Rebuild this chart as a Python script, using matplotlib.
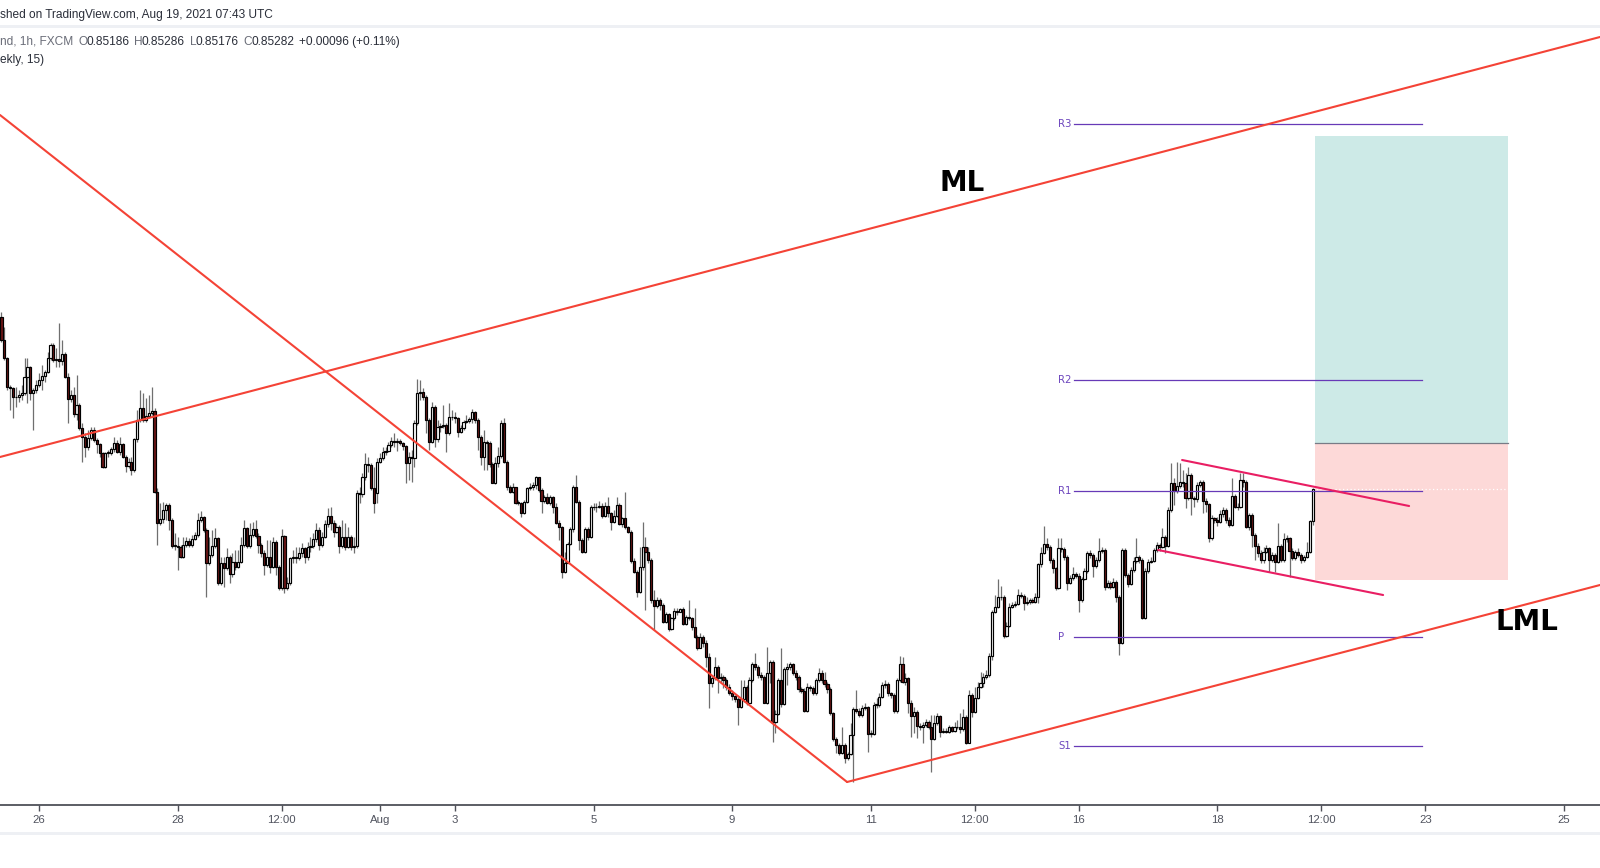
import numpy as np
import matplotlib
matplotlib.use("Agg")
import matplotlib.pyplot as plt
from matplotlib.patches import Rectangle

# ---------------- data: EUR/GBP 1h (prices in pips, 1 pip = 0.0001) ----------------
first_bar = -13            # bar index of the first visible candle (0 = Jul 26 00:00)
first_open_pips = 8580.0
gap_bar = 117              # first bar after the weekend (Aug 1)
gap_open_pips = 8527.0

close_pips = [
    # Jul 23 - Aug 2
    8573, 8567.5, 8559, 8558.7, 8556, 8555.8, 8556.5, 8557, 8561.8, 8564.8, 8557, 8558, 8559.5,
    8561, 8562.3, 8563.5, 8567.5, 8571.5, 8567, 8567.2, 8566.8, 8568.8, 8562,
    8555.2, 8556.5, 8550.8, 8553.5, 8546.5, 8544, 8541, 8543.5, 8546, 8543,
    8541.8, 8539, 8535, 8539, 8539.2, 8540.2, 8542.2, 8539.5, 8541.8, 8538,
    8535.2, 8536.5, 8534, 8543.2, 8549, 8552.5, 8549, 8550.2, 8551.2, 8551.8,
    8527.5, 8518, 8519.2, 8522, 8523.5, 8519, 8511.2, 8511.2, 8510.8, 8508,
    8511.5, 8512.8, 8511.5, 8513.2, 8514.5, 8519, 8519.8, 8516, 8506, 8508.5,
    8511.2, 8513.5, 8500.2, 8506, 8504.5, 8508, 8502.8, 8506.5, 8505, 8506.5,
    8511.5, 8516.5, 8511.2, 8514.5, 8516.2, 8514.2, 8511.5, 8509, 8505.5, 8508,
    8505, 8512.5, 8505, 8498.5, 8514.2, 8498.5, 8500.2, 8507.5, 8508, 8507.5,
    8509, 8510.5, 8508, 8511, 8511.2, 8513.2, 8516, 8511.5, 8514, 8517.8,
    8520.2, 8518, 8515.5, 8516.8, 8511.2, 8513.8, 8511, 8514, 8510.8, 8511.2,
    8527, 8526.8, 8531.8, 8535.8, 8535.5, 8528.5, 8524, 8536.5, 8537.5, 8539.5,
    8539.8, 8541.5, 8542.8, 8542.5,
    # Aug 2 - Aug 9
    8542.8, 8542, 8541.2, 8536, 8537.8, 8537.5, 8548, 8557.2, 8557.5, 8556,
    8549, 8542.5, 8553, 8543.2, 8546.8, 8547.2, 8547.5, 8545, 8549.8, 8549.8,
    8549.5, 8545.5, 8546.5, 8548.5, 8548.8, 8549.2, 8551.5, 8549, 8544, 8537.8,
    8542.5, 8542.2, 8535.8, 8530.2, 8536, 8538.2, 8548.2, 8536.5, 8528.8, 8527.5,
    8528.8, 8524.2, 8524, 8521.2, 8524.5, 8528.5, 8528.8, 8529.5, 8531.8, 8528,
    8524.8, 8526, 8524.2, 8526, 8522.8, 8518.2, 8516.8, 8503.5, 8506.2, 8511.8,
    8516.2, 8528.8, 8524.5, 8513, 8509.5, 8516.2, 8513.8, 8522.8, 8523, 8522.8,
    8523.2, 8520.2, 8523.2, 8521, 8518.5, 8520.2, 8523.5, 8517.8, 8519.5, 8516.8,
    8515.5, 8506.8, 8503.5, 8497.5, 8504.8, 8511, 8509.5, 8507, 8495, 8493.2,
    8495, 8493.5, 8488.5, 8490.8, 8486.2, 8489.5, 8491.8, 8491.5, 8492.2, 8487.8,
    8490, 8489.5, 8486.8, 8484, 8480.5,
    # Aug 9 - Aug 16
    8484, 8482, 8478, 8470, 8471.5, 8474.8, 8471.5, 8472, 8471, 8469,
    8467.2, 8466.2, 8465.2, 8463, 8465.2, 8468.8, 8464.2, 8471, 8475.8, 8475,
    8472.5, 8472, 8464.2, 8473.2, 8476.5, 8458.5, 8460.8, 8471, 8463.8, 8474.2,
    8474.8, 8475.8, 8473.2, 8472, 8468.2, 8467.8, 8461.8, 8469, 8468.5, 8467,
    8471, 8473.2, 8471, 8469.8, 8468.2, 8461, 8453.2, 8451.5, 8449.2, 8451.5,
    8447.5, 8448.8, 8454.5, 8462.2, 8461.8, 8460.5, 8462.5, 8462.8, 8454.8, 8454.8,
    8463.5, 8463.5, 8466, 8469.5, 8469.8, 8467, 8466.5, 8461.8, 8471, 8475.8,
    8470.5, 8471.5, 8464.2, 8460.2, 8461.5, 8457.2, 8456.8, 8457.5, 8458.5, 8456.8,
    8453.2, 8458, 8460.2, 8455.5, 8455.8, 8455.5, 8456.8, 8455.8, 8456.8, 8457,
    8456.2, 8460, 8452.2, 8466.5, 8461.5, 8465.5, 8469, 8470.2, 8472, 8472.5,
    8478.2, 8491.5, 8492.8, 8496, 8495.8, 8484.2, 8487.2, 8493, 8493.5, 8493.8,
    8496.5, 8496.2, 8494, 8494.5,
    # Aug 16 - Aug 19
    8495, 8494.5, 8495.8, 8505.8, 8509.2, 8511.8, 8511, 8507, 8504.5, 8498.5,
    8510.5, 8510.2, 8508, 8500.2, 8501.5, 8502.8, 8502.2, 8495, 8501.2, 8503.8,
    8509.2, 8508.5, 8505.2, 8507, 8509.8, 8510, 8499, 8500.2, 8499, 8500.5,
    8496, 8482, 8510, 8502.5, 8499.8, 8504, 8506.8, 8508, 8507, 8489.5,
    8503.8, 8506.5, 8506.8, 8510, 8511.5, 8510.8, 8513.8, 8511.2, 8522, 8530.2,
    8527.8, 8529.2, 8530.5, 8530, 8525.5, 8532.5, 8525.5, 8525.2, 8529.5, 8530.5,
    8524.8, 8523.8, 8513.5, 8519.5, 8519, 8518.5, 8520.8, 8522, 8519, 8517.5,
    8526.2, 8522.8, 8522.8, 8531, 8530.5, 8516.8, 8520.5, 8514.5, 8511.2, 8509.2,
    8507, 8509.5, 8510.5, 8507, 8508.5, 8506.5, 8511.2, 8507, 8513.2, 8513.5,
    8509.8, 8507.5, 8509.5, 8508.5, 8507, 8507.8, 8509.5, 8518.6, 8528.2,
]

high_pips = [
    8581.5, 8577, 8568, 8559.5, 8559, 8559, 8558, 8559.5, 8567.5, 8567.5, 8565.2, 8558.5, 8561,
    8563, 8565.5, 8564, 8569.5, 8572.2, 8572, 8570.5, 8578, 8573, 8569.5,
    8563, 8558, 8559, 8562.5, 8554, 8548, 8545, 8546, 8547, 8546.8,
    8543.5, 8542.2, 8539.5, 8539.5, 8540, 8541, 8544, 8543, 8544, 8542.2,
    8538.5, 8537.5, 8538, 8543.5, 8552, 8558, 8557, 8555.5, 8556.5, 8559,
    8552.5, 8528.5, 8524, 8524.5, 8524, 8524, 8519.5, 8515, 8514, 8511.5,
    8514, 8514, 8513.5, 8514.5, 8515.5, 8521.2, 8521.8, 8520.2, 8516.5, 8514,
    8516, 8516.5, 8514, 8508, 8508, 8510.5, 8508.5, 8509, 8510, 8510,
    8514, 8519, 8517, 8518, 8518.5, 8519, 8515, 8512, 8510, 8513,
    8513, 8514, 8513, 8505.5, 8516.2, 8514.5, 8502, 8508, 8510, 8511,
    8511, 8512, 8511, 8512.5, 8514, 8515, 8518, 8517, 8515.5, 8519,
    8522.5, 8523, 8519, 8518, 8517.5, 8519, 8518, 8517, 8514.5, 8514,
    8528, 8529, 8533, 8539, 8538, 8536, 8535, 8537.5, 8539, 8541,
    8541, 8542.5, 8544, 8545,
    8543.5, 8543.2, 8542.5, 8541.5, 8539.5, 8540, 8549, 8561.2, 8561, 8558.5,
    8556.5, 8549.5, 8554.5, 8553.5, 8549, 8548, 8553.5, 8548, 8554, 8552,
    8551.5, 8550, 8547.5, 8549, 8550.5, 8550, 8552.2, 8551.8, 8549.5, 8544.5,
    8546, 8543, 8542.8, 8536.5, 8538, 8541, 8549, 8549.5, 8537, 8529.5,
    8530, 8529, 8525, 8524.5, 8525, 8529, 8530, 8530.5, 8532.2, 8532,
    8528.5, 8526.5, 8527, 8526.5, 8526.2, 8524, 8519, 8517.2, 8509.5, 8512.5,
    8517, 8529.5, 8532.5, 8525, 8513.5, 8517, 8517, 8523.5, 8524, 8524,
    8524.8, 8524, 8524.5, 8526, 8521.5, 8522, 8526, 8524, 8520, 8527.5,
    8517.2, 8516, 8507.5, 8504, 8511, 8518.5, 8514, 8511, 8507.5, 8498,
    8496, 8495.5, 8494, 8491.5, 8491.2, 8490, 8492.5, 8492.5, 8492.5, 8492.8,
    8490.5, 8495, 8490, 8492.5, 8484.5,
    8485, 8484.5, 8483, 8479, 8472.5, 8478, 8475.5, 8473, 8472.5, 8471.5,
    8469.8, 8468, 8466.5, 8466, 8471, 8471, 8469.5, 8472, 8476.5, 8479,
    8475.5, 8473.5, 8472.5, 8481, 8477, 8477, 8462, 8471.5, 8480.5, 8475,
    8476, 8476.5, 8476.2, 8474, 8472.5, 8469, 8468.5, 8470, 8469.5, 8469.2,
    8471.5, 8474.5, 8474, 8473.5, 8470.5, 8469, 8461.5, 8454, 8452, 8457,
    8452, 8449.5, 8458, 8463, 8468, 8462.5, 8463.5, 8464, 8463.2, 8456,
    8464.5, 8465.5, 8467, 8470.5, 8471, 8470.5, 8467.5, 8467, 8471.5, 8478.2,
    8478, 8473, 8472, 8465, 8463, 8462, 8458, 8458.5, 8459.2, 8459,
    8460.5, 8460.5, 8461, 8460.5, 8456.5, 8456.5, 8457.5, 8457.2, 8458.5, 8459,
    8461, 8462.2, 8460.5, 8468, 8467, 8469, 8470.5, 8473.5, 8473, 8474,
    8479, 8492, 8496.5, 8501.2, 8499.2, 8496.5, 8488.5, 8494, 8494.5, 8494.8,
    8498.2, 8497.5, 8496.8, 8496,
    8495.5, 8495.5, 8497, 8506, 8511, 8517.2, 8513.5, 8511.5, 8507.5, 8505,
    8513.5, 8513.5, 8511, 8508.5, 8502.5, 8505, 8503.5, 8503, 8502, 8504.5,
    8509.8, 8510, 8509, 8508, 8513.5, 8511, 8510.5, 8501, 8500.8, 8501.5,
    8501, 8496.5, 8510.5, 8510.5, 8503, 8505, 8508, 8513.5, 8508.5, 8507.5,
    8504.5, 8507.2, 8508, 8510.5, 8512.5, 8512, 8516.5, 8514.5, 8522.8, 8536,
    8531.5, 8536.5, 8536, 8534, 8533, 8535, 8533, 8526.2, 8530.5, 8531,
    8531, 8525.5, 8524.2, 8520.5, 8520, 8520, 8522, 8522.8, 8522.5, 8520,
    8531.5, 8526.8, 8524, 8533.2, 8533, 8531, 8521, 8521, 8515, 8512,
    8510, 8511, 8511.5, 8511, 8509.5, 8509, 8518, 8511.8, 8515, 8514.5,
    8514, 8510.5, 8510, 8510.5, 8509, 8508.5, 8512.5, 8519, 8528.6,
]

low_pips = [
    8572.5, 8567, 8558, 8552, 8549.5, 8553, 8554.5, 8555, 8556.5, 8554, 8555, 8546, 8557,
    8559, 8558, 8560.5, 8563, 8567, 8566.5, 8565, 8565, 8565.5, 8561.5,
    8548, 8554.5, 8550, 8549, 8546, 8536.5, 8538, 8540, 8543, 8542.5,
    8539, 8538, 8534.5, 8534.5, 8538, 8538.5, 8539.5, 8539, 8538.5, 8537.5,
    8533.5, 8534.5, 8532.5, 8533.5, 8542.5, 8548.5, 8548.5, 8548.5, 8549.5, 8550.5,
    8527, 8511.5, 8517.5, 8518, 8519, 8516, 8510.5, 8510, 8504, 8507.5,
    8507.5, 8511, 8511, 8511, 8513, 8514, 8518.5, 8515.5, 8496, 8505.5,
    8508, 8510.5, 8499.5, 8499.5, 8499, 8504, 8500, 8502, 8504, 8504.5,
    8506, 8511, 8510.5, 8510.5, 8514, 8513.5, 8509, 8508, 8502.5, 8505,
    8503, 8504.5, 8502.5, 8498, 8498, 8497, 8498, 8499.5, 8506, 8506,
    8507, 8508, 8506, 8507, 8509.5, 8510.5, 8512.5, 8510, 8511, 8513.5,
    8517, 8516, 8514, 8515, 8509, 8510.5, 8510, 8510.5, 8510, 8509,
    8510.5, 8524, 8526, 8531, 8533.5, 8528, 8521, 8524, 8536, 8537,
    8538.5, 8539.5, 8541, 8541,
    8539.8, 8541.5, 8540, 8530, 8531, 8530.5, 8535, 8547.5, 8555, 8555,
    8545, 8540, 8542, 8541, 8542.5, 8545.5, 8546.5, 8539.5, 8544.5, 8549,
    8548, 8544, 8545, 8546, 8548, 8548, 8548.2, 8548, 8540, 8535.5,
    8534, 8534, 8535, 8530, 8529.8, 8535, 8537.5, 8536, 8528, 8527,
    8527, 8523.8, 8523.5, 8520, 8520.8, 8524, 8528, 8528, 8528.2, 8527.5,
    8521, 8524, 8523.8, 8523.5, 8521, 8517.8, 8513, 8501.5, 8503, 8506,
    8511.5, 8515.5, 8524, 8510, 8509, 8509.2, 8513, 8513.5, 8522, 8521.5,
    8522.5, 8519.5, 8519.8, 8520, 8516, 8518, 8519.8, 8517.5, 8517, 8516.2,
    8515, 8506, 8503, 8496, 8497, 8504, 8492, 8506, 8494, 8486,
    8492.5, 8492, 8488, 8488, 8485.8, 8486, 8489, 8490.5, 8491.5, 8487.5,
    8487.5, 8489, 8486, 8483.5, 8480,
    8480.5, 8481, 8475, 8462.5, 8469, 8471, 8467, 8470, 8468.5, 8468,
    8466.5, 8465, 8464.5, 8457.5, 8462.5, 8464.5, 8463.5, 8463.8, 8470.5, 8474,
    8471.5, 8471, 8464, 8463.8, 8470, 8452.5, 8455, 8460.5, 8463, 8463.5,
    8469.5, 8474, 8472.5, 8471, 8467.5, 8467, 8461.5, 8461.5, 8467.8, 8466.5,
    8466.5, 8470.5, 8470, 8469, 8467, 8460.5, 8452.8, 8449, 8448.5, 8448.8,
    8446, 8447, 8448.5, 8440.5, 8461, 8460, 8460, 8462, 8449.5, 8454,
    8454.5, 8462.5, 8463, 8465.5, 8468.5, 8466.2, 8465.5, 8461, 8461, 8470.5,
    8470, 8469.5, 8461, 8454, 8455, 8453.5, 8456, 8452, 8457, 8456.2,
    8443.5, 8453, 8457.5, 8454, 8455, 8455, 8455.2, 8455.5, 8455.5, 8456.2,
    8455, 8455.8, 8451.8, 8452, 8459.8, 8461, 8465.2, 8468.5, 8469, 8471.2,
    8472, 8477, 8491, 8492.5, 8495, 8483.5, 8483.8, 8487, 8492.5, 8493,
    8493.5, 8495.5, 8492, 8493.5,
    8493.8, 8494, 8494, 8494, 8505, 8508.8, 8510, 8506, 8503, 8498,
    8498.2, 8509.5, 8507, 8498, 8499.8, 8501, 8501.5, 8491.5, 8494.5, 8501,
    8503.2, 8507.5, 8502, 8504.5, 8506.5, 8509, 8498, 8498.5, 8498.2, 8498.5,
    8494.5, 8478.5, 8481.8, 8502, 8499, 8499.5, 8503.5, 8506.2, 8506, 8489.2,
    8489.2, 8503, 8506, 8506.5, 8509.5, 8509.8, 8510.5, 8509, 8511, 8521.5,
    8523.5, 8527.2, 8528.5, 8529, 8522.5, 8525, 8520.5, 8523, 8524.5, 8529,
    8521, 8521.5, 8512.5, 8513, 8518, 8517.2, 8518, 8520, 8518, 8517,
    8517.2, 8522.5, 8522, 8522.5, 8529, 8516.5, 8516, 8511, 8507, 8508,
    8506, 8506.2, 8509, 8503.5, 8506.5, 8503.5, 8506, 8506.5, 8506.5, 8512.5,
    8502, 8507, 8507, 8508, 8506, 8506.5, 8507.5, 8509.2, 8517.6,
]

tick_bars = [0, 48, 84, 118, 144, 192, 240, 288, 324, 360, 408, 444, 480, 528]
tick_labels = ["26", "28", "12:00", "Aug", "3", "5", "9", "11", "12:00", "16", "18", "12:00", "23", "25"]

pivot_names = ["R3", "R2", "R1", "P", "S1"]
pivot_levels = [0.86378, 0.85610, 0.85277, 0.84839, 0.84512]
pivot_span = (358.4, 478.9)
pivot_label_x = 352.8

# hand-drawn lines (bar index, price)
ml_line = [(-13.5, 0.85379), (540.5, 0.86639)]
down_line = [(-13.5, 0.86405), (279.8, 0.84404)]
lml_line = [(279.8, 0.84404), (540.5, 0.84995)]
wedge_upper = [(395.8, 0.85370), (474.4, 0.85232)]
wedge_lower = [(387.5, 0.85100), (465.4, 0.84965)]
ml_label = (319.6, 0.86200)
lml_label = (515.2, 0.84883)

# long position tool
position_x = (441.8, 508.7)
position_target, position_entry, position_stop = 0.86342, 0.85421, 0.85010

x_range = (-13.5, 540.5)
y_range = (0.84335, 0.86666)

# legend / header texts
header_text = "shed on TradingView.com, Aug 19, 2021 07:43 UTC"
legend_symbol = "nd, 1h, FXCM"
legend_ohlc = [("O", "0.85186"), ("H", "0.85286"), ("L", "0.85176"), ("C", "0.85282")]
legend_change = "+0.00096 (+0.11%)"
legend_line2 = "ekly, 15)"

# ---------------- figure ----------------
plt.rcParams["font.family"] = ["Liberation Sans", "DejaVu Sans"]
W, H = 1600, 868
fig = plt.figure(figsize=(W / 100, H / 100), dpi=100)
fig.patch.set_facecolor("white")

ax = fig.add_axes([0, 1 - 805 / H, 1, (805 - 28) / H])
ax.set_facecolor("white")
ax.set_xlim(*x_range)
ax.set_ylim(*y_range)

n = min(len(close_pips), len(high_pips), len(low_pips))
closes = np.array(close_pips[:n], dtype=float) / 1e4
opens = np.concatenate([[first_open_pips / 1e4], closes[:-1]])
gi = gap_bar - first_bar
if 0 <= gi < n:
    opens[gi] = gap_open_pips / 1e4
highs = np.maximum(np.maximum(np.array(high_pips[:n], dtype=float) / 1e4, opens), closes)
lows = np.minimum(np.minimum(np.array(low_pips[:n], dtype=float) / 1e4, opens), closes)
xs = np.arange(first_bar, first_bar + n)

up = closes >= opens
bottoms = np.minimum(opens, closes)
heights = np.maximum(np.abs(closes - opens), 0.000025)

# position tool (behind candles)
px0, px1 = position_x
ax.add_patch(Rectangle((px0, position_entry), px1 - px0, position_target - position_entry,
                       facecolor="#cdeae7", edgecolor="none", zorder=1))
ax.add_patch(Rectangle((px0, position_stop), px1 - px0, position_entry - position_stop,
                       facecolor="#fdd9d8", edgecolor="none", zorder=1))
ax.plot([px0, px1], [position_entry, position_entry], color="#787b86", lw=0.9, zorder=1.5)

# last price line (white dotted)
ax.axhline(closes[-1], color="white", lw=0.9, ls=(0, (1, 2)), zorder=1.6)

# candles
ax.vlines(xs, lows, highs, color="#6f6f6f", lw=0.9, zorder=2)
ax.bar(xs[up], heights[up], bottom=bottoms[up], width=0.74, color="white",
       edgecolor="black", linewidth=0.85, zorder=3)
ax.bar(xs[~up], heights[~up], bottom=bottoms[~up], width=0.74, color="#6a1515",
       edgecolor="black", linewidth=0.85, zorder=3)

# pivots
for name, lvl in zip(pivot_names, pivot_levels):
    ax.plot(pivot_span, [lvl, lvl], color="#673ab7", lw=0.9, zorder=4)
    ax.text(pivot_label_x, lvl, name, color="#6c45bd", fontsize=7.3, ha="left",
            va="center", family=["DejaVu Sans"], zorder=4)

# drawn lines
red = "#f44336"
for ln in (ml_line, down_line, lml_line):
    ax.plot([p[0] for p in ln], [p[1] for p in ln], color=red, lw=1.5,
            solid_capstyle="round", zorder=5)
pink = "#e91e63"
for ln in (wedge_upper, wedge_lower):
    ax.plot([p[0] for p in ln], [p[1] for p in ln], color=pink, lw=1.5,
            solid_capstyle="round", zorder=5)

ax.text(*ml_label, "ML", fontsize=20, fontweight="bold", color="black",
        ha="center", va="center", family=["DejaVu Sans"], zorder=6)
ax.text(*lml_label, "LML", fontsize=20, fontweight="bold", color="black",
        ha="center", va="center", family=["DejaVu Sans"], zorder=6)

# axes styling
for s in ("top", "left", "right"):
    ax.spines[s].set_visible(False)
ax.spines["bottom"].set_color("#4e5058")
ax.spines["bottom"].set_linewidth(1.3)
ax.set_yticks([])
ax.set_xticks(tick_bars)
ax.set_xticklabels(tick_labels)
ax.tick_params(axis="x", length=4, width=1, color="#4e5058", labelsize=8.2,
               labelcolor="#50535e", pad=3.5)

# header bands
def fx(px):
    return px / W

def fy(py):
    return 1 - py / H

fig.add_artist(Rectangle((0, fy(28)), 1, 3 / H, transform=fig.transFigure,
                         facecolor="#eef0f4", edgecolor="none"))
fig.add_artist(Rectangle((0, fy(835)), 1, 3 / H, transform=fig.transFigure,
                         facecolor="#eef0f4", edgecolor="none"))

dark = "#2a2e39"
gray = "#6a6d78"
fs = 8.6
fig.text(fx(0), fy(15), header_text, fontsize=fs, color=dark, ha="left", va="center")

renderer = fig.canvas.get_renderer()

def put(xpx, s, color, ypx):
    t = fig.text(fx(xpx), fy(ypx), s, fontsize=fs, color=color, ha="left", va="center")
    return xpx + t.get_window_extent(renderer).width

xcur = put(0, legend_symbol, gray, 42) + 5
for letter, value in legend_ohlc:
    xcur = put(xcur, letter, gray, 42) - 1.0
    xcur = put(xcur, value, dark, 42) + 5
put(xcur, legend_change, dark, 42)
put(0, legend_line2, dark, 60)

fig.savefig("out.png", dpi=100, facecolor="white")
